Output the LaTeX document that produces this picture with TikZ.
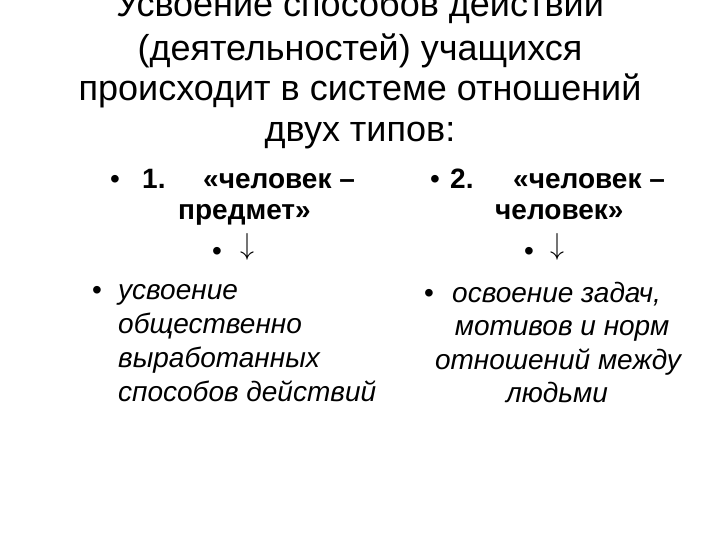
\RequirePackage{fix-cm}
\documentclass[tikz,border=0pt]{standalone}
\usepackage{fontspec}
\setmainfont{Liberation Sans}
\begin{document}
\begin{tikzpicture}[x=1pt,y={(0pt,-1pt)},
  title/.style={font=\fontsize{36}{40}\selectfont, inner sep=0pt, anchor=base},
  head/.style={font=\fontsize{28}{30}\selectfont\bfseries, inner sep=0pt, anchor=base west},
  body/.style={font=\fontsize{28}{30}\selectfont\itshape, inner sep=0pt, anchor=base west},
  bodyc/.style={font=\fontsize{28}{30}\selectfont\itshape, inner sep=0pt, anchor=base},
  sym/.style={font=\fontsize{28}{30}\selectfont, inner sep=0pt, anchor=base west},
  arr/.style={inner sep=0pt, anchor=south}]
\useasboundingbox (0,0) rectangle (720,540);
\fill[white] (0,0) rectangle (720,540);
% title
\node[title] (t1) at (360,17) {Усвоение способов действий};
\node[title] (t2) at (360,61) {(деятельностей) учащихся};
\node[title] (t3) at (360,101) {происходит в системе отношений};
\node[title] (t4) at (360,142) {двух типов:};
% left column
\node[sym] (lb1) at (110,189) {•};
\node[head] (lh1) at (142,189) {1.};
\node[head] (lh2) at (203,189) {«человек –};
\node[head] (lh3) at (178,220) {предмет»};
\node[sym] (lb2) at (212,260) {•};
\node[arr] (la) at (247,261) {\resizebox*{14pt}{27pt}{$\downarrow$}};
\node[sym] (lb3) at (92,299) {•};
\node[body] (lt1) at (118,299) {усвоение};
\node[body] (lt2) at (118,333) {общественно};
\node[body] (lt3) at (118,367) {выработанных};
\node[body] (lt4) at (118,401) {способов действий};
% right column
\node[sym] (rb1) at (430,189) {•};
\node[head] (rh1) at (450,189) {2.};
\node[head] (rh2) at (513,189) {«человек –};
\node[head] (rh3) at (495,220) {человек»};
\node[sym] (rb2) at (524,260) {•};
\node[arr] (ra) at (557,261) {\resizebox*{14pt}{27pt}{$\downarrow$}};
\node[sym] (rb3) at (424,302) {•};
\node[body] (rt1) at (452,302) {освоение задач,};
\node[bodyc] (rt2) at (562,335) {мотивов и норм};
\node[bodyc] (rt3) at (558,369) {отношений между};
\node[bodyc] (rt4) at (557,402) {людьми};
\end{tikzpicture}
\end{document}
